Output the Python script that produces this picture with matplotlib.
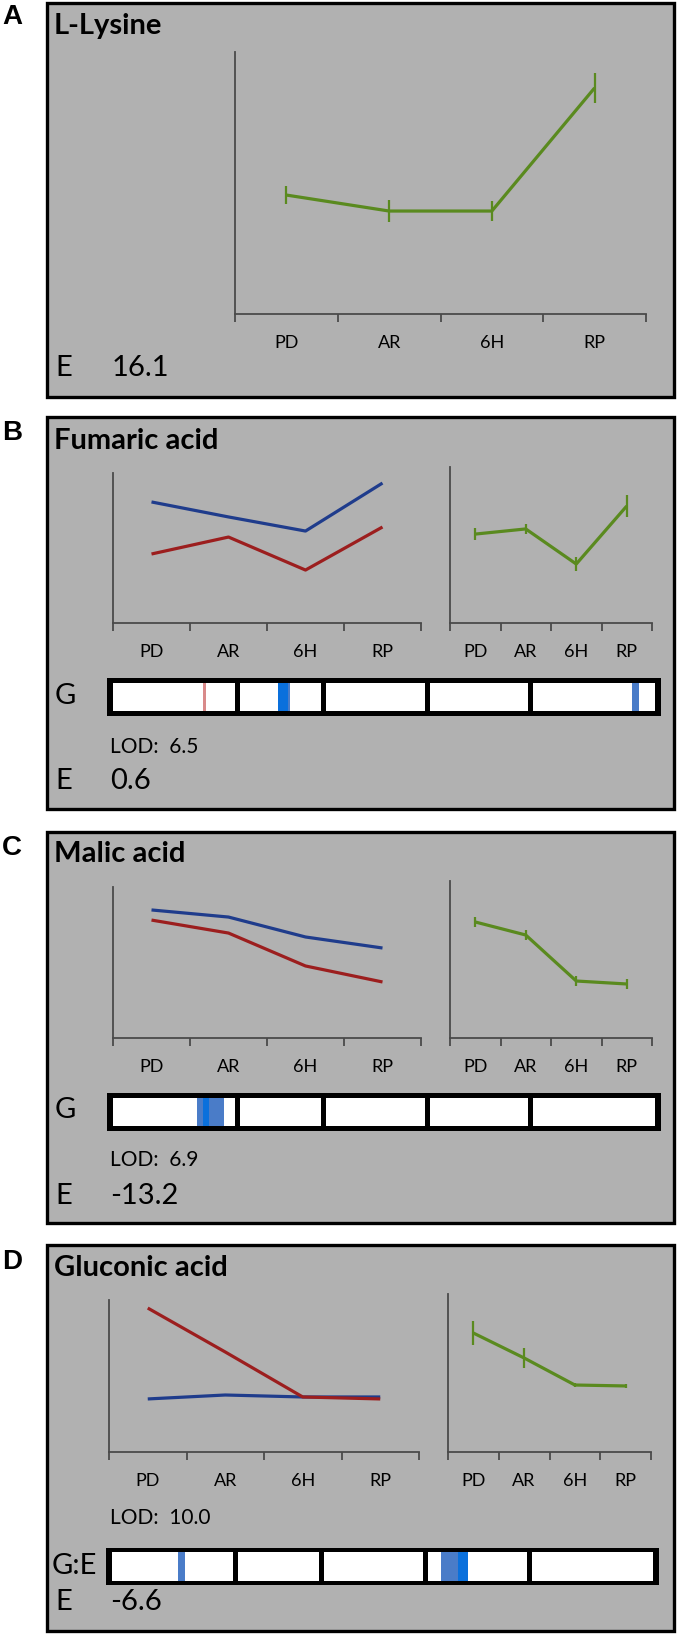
import matplotlib
matplotlib.use("Agg")
import matplotlib.pyplot as plt
from matplotlib.patches import Rectangle

W, H = 677, 1634

cats = ['PD', 'AR', '6H', 'RP']

# A: L-Lysine (environment profile only)
lys_mean = [45.4, 39.3, 39.3, 86.3]
lys_err = [3.4, 4.2, 3.8, 5.7]

# B: Fumaric acid
fum_blue = [80.7, 70.7, 61.3, 93.3]
fum_red = [46.0, 57.3, 35.3, 64.0]
fum_mean = [57.0, 60.3, 37.8, 75.0]
fum_err = [3.8, 3.2, 4.5, 7.0]

# C: Malic acid
mal_blue = [84.8, 80.1, 66.9, 59.6]
mal_red = [78.1, 69.5, 47.7, 37.1]
mal_mean = [73.9, 65.6, 36.3, 34.4]
mal_err = [3.2, 3.0, 3.2, 3.0]

# D: Gluconic acid
glu_blue = [34.9, 37.5, 36.2, 36.2]
glu_red = [94.7, 65.8, 36.2, 34.9]
glu_mean = [75.3, 59.5, 42.4, 41.8]
glu_err = [7.6, 6.3, 1.0, 1.0]

# genome bar: chromosome lengths (% of genome) and QTL spans
chrom_len = [23.5, 15.5, 18.8, 18.7, 23.5]
fum_qtl = [(17.3, 17.9, '#d98a8a'), (30.9, 32.6, '#0a70dc'), (32.6, 33.1, '#4a7cc8'), (94.8, 96.0, '#4a7cc8')]
mal_qtl = [(16.2, 21.1, '#4a7cc8'), (17.3, 18.4, '#0a70dc')]
glu_qtl = [(13.0, 14.3, '#4a7cc8'), (60.6, 63.7, '#4a7cc8'), (63.7, 65.5, '#0a70dc')]

titles = ['L-Lysine', 'Fumaric acid', 'Malic acid', 'Gluconic acid']
letters = ['A', 'B', 'C', 'D']
env_vals = ['16.1', '0.6', '-13.2', '-6.6']
lod_vals = ['6.5', '6.9', '10.0']

GREEN = '#5a8a1f'
BLUE = '#1f3c8c'
RED = '#9c1e1e'
AXC = '#4a4a4a'
FONT = ['Lato', 'DejaVu Sans']
BIG = 21

fig = plt.figure(figsize=(W / 100, H / 100), dpi=100)
bg = fig.add_axes([0, 0, 1, 1])
bg.set_xlim(0, W)
bg.set_ylim(H, 0)
bg.axis('off')


def px_axes(x0, y0, x1, y1):
    return fig.add_axes([x0 / W, 1 - y1 / H, (x1 - x0) / W, (y1 - y0) / H])


def profile(box, lines, err=None):
    ax = px_axes(*box)
    ax.patch.set_visible(False)
    x = range(len(cats))
    for vals, col in lines:
        ax.plot(x, vals, color=col, lw=2.3, solid_capstyle='butt')
    if err is not None:
        vals, e = err
        ax.errorbar(x, vals, yerr=e, fmt='none', ecolor=GREEN, elinewidth=1.6, capsize=0)
    ax.set_xlim(-0.5, 3.5)
    ax.set_ylim(0, 100)
    for s in ['top', 'right']:
        ax.spines[s].set_visible(False)
    for s in ['left', 'bottom']:
        ax.spines[s].set_color(AXC)
        ax.spines[s].set_linewidth(1.3)
    ax.set_yticks([])
    ax.set_xticks(list(x))
    ax.set_xticklabels(cats, fontsize=13, family=FONT)
    ax.tick_params(axis='x', which='major', length=0, pad=15)
    ax.set_xticks([i - 0.5 for i in range(len(cats) + 1)], minor=True)
    ax.tick_params(axis='x', which='minor', length=6, width=1.3, color=AXC, direction='out')
    return ax


def genome(box, qtls):
    ax = px_axes(*box)
    ax.set_facecolor('black')
    ax.set_xlim(0, sum(chrom_len))
    ax.set_ylim(0, 1)
    ax.set_xticks([])
    ax.set_yticks([])
    for s in ax.spines.values():
        s.set_visible(False)
    start = 0
    for i, L in enumerate(chrom_len):
        a = start + (1.0 if i == 0 else 0.45)
        b = start + L - (1.0 if i == len(chrom_len) - 1 else 0.45)
        ax.axvspan(a, b, ymin=0.12, ymax=0.88, color='white', lw=0)
        start += L
    for a, b, col in qtls:
        ax.axvspan(a, b, ymin=0.12, ymax=0.88, color=col, lw=0)
    return ax


def label(x, y, s, size=BIG):
    bg.text(x, y, s, fontsize=size, family=FONT, ha='left', va='center')


# panel frames
frames = [(3, 397), (417, 809), (832, 1223), (1245, 1631)]
letter_y = [17, 433, 848, 1262]
title_y = [26, 441, 854, 1268]
for (y0, y1), lt, ly, t, ty in zip(frames, letters, letter_y, titles, title_y):
    bg.add_patch(Rectangle((47, y0), 627, y1 - y0, facecolor='#b1b1b1', edgecolor='black', lw=2.4))
    bg.text(2, ly, lt, fontsize=20, fontweight='bold', family=['Liberation Sans', 'DejaVu Sans'],
            ha='left', va='center')
    bg.text(54, ty, t, fontsize=BIG, fontweight='bold', family=FONT, ha='left', va='center')

# A
profile((235, 52, 646, 314), [(lys_mean, GREEN)], err=(lys_mean, lys_err))
label(55, 368, 'E')
label(112, 368, env_vals[0])

# B
profile((113, 473, 421, 623), [(fum_blue, BLUE), (fum_red, RED)])
profile((450, 467, 652, 623), [(fum_mean, GREEN)], err=(fum_mean, fum_err))
genome((107, 678, 661, 716), fum_qtl)
label(55, 696, 'G')
label(110, 747, 'LOD:  ' + lod_vals[0], size=15)
label(55, 781, 'E')
label(110, 781, env_vals[1])

# C
profile((113, 887, 421, 1038), [(mal_blue, BLUE), (mal_red, RED)])
profile((450, 881, 652, 1038), [(mal_mean, GREEN)], err=(mal_mean, mal_err))
genome((107, 1093, 661, 1131), mal_qtl)
label(55, 1110, 'G')
label(110, 1160, 'LOD:  ' + lod_vals[1], size=15)
label(55, 1196, 'E')
label(110, 1196, env_vals[2])

# D
profile((109, 1300, 419, 1452), [(glu_blue, BLUE), (glu_red, RED)])
profile((448, 1294, 651, 1452), [(glu_mean, GREEN)], err=(glu_mean, glu_err))
label(110, 1518, 'LOD:  ' + lod_vals[2], size=15)
genome((106, 1548, 659, 1585), glu_qtl)
label(52, 1566, 'G:E')
label(55, 1602, 'E')
label(110, 1602, env_vals[3])

fig.savefig('out.png', dpi=100, facecolor='white')
